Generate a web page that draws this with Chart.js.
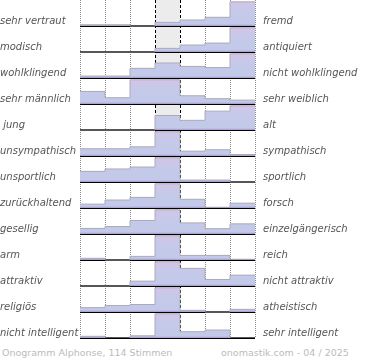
<!DOCTYPE html>
<html>
<head>
<meta charset="utf-8">
<script src="https://cdn.jsdelivr.net/npm/chart.js@4"></script>
<style>
  body { margin: 0; background: #fff; }
  #wrap { position: relative; width: 370px; height: 339px; }
  .foot { position: absolute; top: 347px; font: 9.5px "DejaVu Sans", sans-serif; color: #bbb; white-space: nowrap; }
</style>
</head>
<body>
<div id="wrap"><canvas id="myChart"></canvas></div>
<div class="foot" style="left:2px">Onogramm Alphonse, 114 Stimmen</div>
<div class="foot" style="left:221px">onomastik.com - 04 / 2025</div>
<script>
// semantic differential, one stepped area per row (7 columns)
const leftLabels = ['sehr vertraut', 'modisch', 'wohlklingend', 'sehr männlich', ' jung', 'unsympathisch',
  'unsportlich', 'zurückhaltend', 'gesellig', 'arm', 'attraktiv', 'religiös', 'nicht intelligent'];
const rightLabels = ['fremd', 'antiquiert', 'nicht wohlklingend', 'sehr weiblich', 'alt', 'sympathisch',
  'sportlich', 'forsch', 'einzelgängerisch', 'reich', 'nicht attraktiv', 'atheistisch', 'sehr intelligent'];

// bar heights in % of row height, left to right
const rows = [
  [5, 5, 0, 15, 25, 36, 100],
  [0, 0, 0, 15, 29, 37, 100],
  [8, 8, 40, 62, 48, 43, 100],
  [52, 26, 100, 100, 34, 22, 16],
  [0, 0, 0, 60, 40, 78, 100],
  [30, 30, 38, 100, 20, 26, 6],
  [44, 54, 62, 100, 8, 8, 0],
  [16, 33, 44, 100, 36, 3, 20],
  [23, 31, 56, 100, 46, 22, 42],
  [7, 0, 15, 100, 19, 19, 3],
  [0, 0, 20, 100, 73, 27, 45],
  [18, 27, 31, 100, 7, 0, 11],
  [7, 0, 9, 100, 26, 33, 0]
];

const nRows = rows.length;
const rowScale = 0.93;
const baseOf = (r) => nRows - 1 - r;

const datasets = rows.map((vals, r) => {
  const base = baseOf(r);
  const pts = vals.map((v, i) => ({ x: i, y: base + v / 100 * rowScale }));
  pts.push({ x: vals.length, y: base + vals[vals.length - 1] / 100 * rowScale });
  return {
    data: pts,
    stepped: true,
    pointRadius: 0,
    borderWidth: 1,
    borderColor: '#ababb6',
    fill: { value: base },
    backgroundColor: (context) => {
      const chart = context.chart;
      if (!chart.chartArea) return '#c4cae9';
      const y = chart.scales.y;
      const y0 = y.getPixelForValue(base);
      const y1 = y.getPixelForValue(base + rowScale);
      const g = chart.ctx.createLinearGradient(0, y0, 0, y1);
      g.addColorStop(0, '#a597cc');
      g.addColorStop(0.08, '#c2c9e9');
      g.addColorStop(0.6, '#c5c9ea');
      g.addColorStop(1, '#d3c5e6');
      return g;
    }
  };
});

// light grey behind the neutral column
const middleShade = {
  id: 'middleShade',
  beforeDraw(chart) {
    const { ctx, chartArea, scales } = chart;
    const x0 = scales.x.getPixelForValue(3);
    const x1 = scales.x.getPixelForValue(4);
    ctx.save();
    ctx.fillStyle = '#ececec';
    ctx.fillRect(x0, chartArea.top, x1 - x0, chartArea.bottom - chartArea.top);
    ctx.restore();
  }
};

const rowTicks = (scale) => {
  scale.ticks = rows.map((_, r) => ({ value: baseOf(r) }));
};
const noPad = (w) => (scale) => {
  scale.width = w;
  scale.paddingTop = 0;
  scale.paddingBottom = 0;
};
const labelFont = { family: 'DejaVu Sans', size: 10, style: 'italic' };
const isMid = (ctx) => ctx.tick && (ctx.tick.value === 3 || ctx.tick.value === 4);

const config = {
  type: 'line',
  data: { datasets: datasets },
  options: {
    responsive: true,
    maintainAspectRatio: false,
    animation: false,
    layout: { padding: { left: 0, top: 0, right: 0, bottom: 1 } },
    plugins: { legend: { display: false }, tooltip: { enabled: false } },
    scales: {
      x: {
        type: 'linear',
        min: 0,
        max: 7,
        z: 1,
        ticks: { display: false, stepSize: 1 },
        border: {
          display: false,
          dash: (ctx) => isMid(ctx) ? [3, 2] : [1, 1]
        },
        grid: {
          drawTicks: false,
          color: (ctx) => isMid(ctx) ? '#000' : '#8a8a8a',
          lineWidth: 1
        }
      },
      y: {
        type: 'linear',
        position: 'left',
        min: 0,
        max: nRows,
        z: 2,
        afterBuildTicks: rowTicks,
        afterFit: noPad(80),
        border: { display: false },
        grid: { color: '#000', lineWidth: 2, drawTicks: false },
        ticks: {
          crossAlign: 'far',
          labelOffset: -5,
          color: '#555',
          font: labelFont,
          callback: (value) => leftLabels[nRows - 1 - value]
        }
      },
      y2: {
        type: 'linear',
        position: 'right',
        min: 0,
        max: nRows,
        afterBuildTicks: rowTicks,
        afterFit: noPad(115),
        border: { display: false },
        grid: { drawOnChartArea: false, drawTicks: false },
        ticks: {
          padding: 8,
          labelOffset: -5,
          color: '#555',
          font: labelFont,
          callback: (value) => rightLabels[nRows - 1 - value]
        }
      }
    }
  },
  plugins: [middleShade]
};

var myChart = new Chart(document.getElementById('myChart'), config);
</script>
</body>
</html>
